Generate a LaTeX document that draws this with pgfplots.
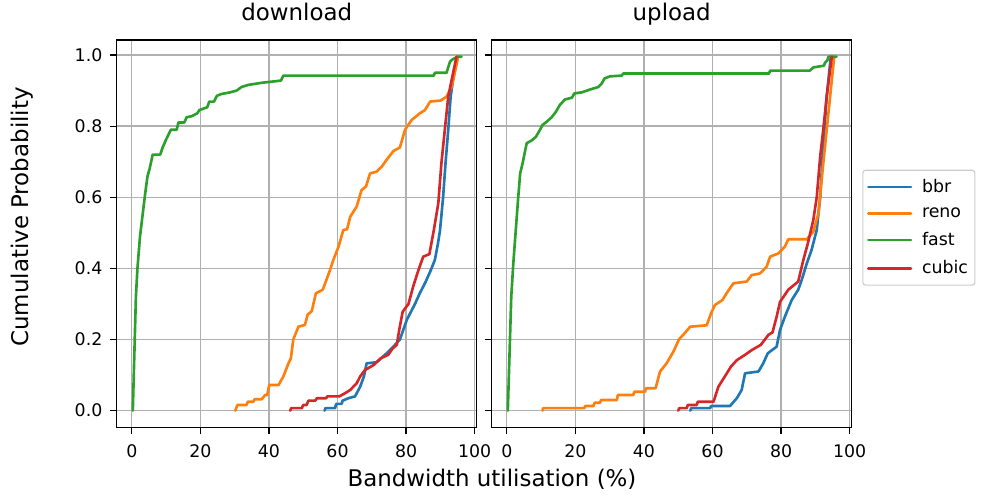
\documentclass[border=0pt]{standalone}
\usepackage{pgfplots}
\pgfplotsset{compat=1.18}
\usepackage{fontspec}
\setmainfont{DejaVu Sans}

\definecolor{cbbr}{HTML}{1F77B4}
\definecolor{creno}{HTML}{FF7F0E}
\definecolor{cfast}{HTML}{2CA02C}
\definecolor{ccubic}{HTML}{D62728}
\definecolor{gridgray}{HTML}{B0B0B0}

\newcommand{\px}{0.72pt}

\pgfplotsset{
  cdf/.style={line width=1.9pt, line join=round, line cap=round},
  cdfaxis/.style={
    scale only axis,
    width=259.2pt, height=279.1pt,
    xmin=-4.4, xmax=100.6,
    ymin=-0.048, ymax=1.042,
    xtick={0,20,40,60,80,100},
    ytick={0,0.2,0.4,0.6,0.8,1.0},
    grid=major,
    major grid style={color=gridgray, line width=0.9pt},
    axis line style={line width=0.9pt},
    tick align=outside,
    major tick length=4.8pt,
    tick style={line width=0.85pt, black},
    xtick pos=bottom, ytick pos=left,
    ticklabel style={font=\fontsize{12.5}{14}\selectfont},
    xticklabel style={yshift=-3.6pt},
    yticklabel style={xshift=-2pt},
    /pgf/number format/assume math mode=true,
    yticklabel style={/pgf/number format/.cd, fixed, fixed zerofill, precision=1},
    title style={font=\fontsize{16.5}{18}\selectfont, at={(0.5,1)}, anchor=base, yshift=8.4pt},
  }
}

\begin{document}
\begin{tikzpicture}
\path[use as bounding box] (0,0) rectangle (984*\px,-494*\px);

% download panel
\begin{axis}[cdfaxis, at={(116.7*\px,-427.7*\px)}, anchor=south west, title={download}]
\addplot[cdf, cbbr] coordinates {(56.2,0)(56.5,0.007)(59.3,0.007)(59.6,0.019)(61.2,0.019)(61.5,0.028)(63.2,0.035)(65.1,0.04)(66.6,0.067)(67.7,0.096)(68.5,0.133)(71.4,0.136)(74.3,0.161)(76.3,0.18)(78.2,0.2)(80.2,0.255)(82.6,0.30)(84,0.33)(85.5,0.358)(87,0.39)(88.4,0.424)(89.3,0.47)(89.9,0.507)(90.8,0.6)(91.5,0.695)(92.3,0.79)(93.0,0.883)(93.7,0.93)(95,0.995)};
\addplot[cdf, creno] coordinates {(30.2,0)(30.8,0.016)(33.5,0.016)(33.8,0.025)(35.5,0.025)(35.8,0.032)(37.9,0.032)(38.9,0.044)(39.5,0.044)(40.1,0.072)(42.8,0.072)(44.2,0.096)(45.7,0.133)(46.4,0.147)(47.1,0.2)(48.6,0.236)(50.5,0.241)(51.3,0.27)(52.5,0.28)(53.7,0.33)(55.7,0.34)(56.4,0.358)(57.8,0.395)(58.8,0.424)(60.3,0.461)(61.7,0.508)(62.8,0.51)(63.7,0.545)(65.6,0.574)(67,0.62)(68.3,0.63)(69.5,0.667)(71.4,0.672)(72.9,0.686)(74.3,0.705)(76.3,0.73)(78.2,0.74)(79.7,0.79)(81.6,0.817)(84,0.836)(85.5,0.845)(87,0.869)(90.1,0.872)(91.8,0.883)(93.3,0.911)(94.8,0.977)(95.2,0.995)};
\addplot[cdf, cfast] coordinates {(0.3,0)(1.2,0.32)(1.65,0.40)(2.4,0.49)(3.9,0.61)(4.6,0.66)(5.2,0.68)(6.1,0.72)(8.3,0.72)(9.0,0.74)(9.9,0.76)(11.4,0.79)(13.1,0.79)(13.6,0.81)(15.3,0.81)(16,0.825)(17.5,0.828)(19.1,0.836)(19.7,0.845)(22,0.853)(22.6,0.869)(24,0.869)(24.8,0.885)(26,0.89)(28.7,0.895)(30.6,0.9)(32,0.91)(34,0.916)(38,0.922)(43.5,0.928)(44.2,0.942)(88.1,0.942)(88.4,0.95)(91.8,0.95)(92.8,0.981)(93.3,0.986)(94,0.99)(95,0.995)(96.2,0.995)};
\addplot[cdf, ccubic] coordinates {(46.2,0)(46.5,0.007)(49.6,0.007)(50,0.016)(51,0.016)(51.5,0.028)(53.5,0.028)(54,0.035)(56.7,0.035)(57,0.04)(60.5,0.04)(62.2,0.049)(63.7,0.058)(65.6,0.077)(66.6,0.096)(68,0.114)(70.5,0.128)(72.6,0.147)(74.8,0.157)(76.1,0.175)(77.3,0.185)(78,0.227)(79,0.278)(80.7,0.30)(82.1,0.35)(83.6,0.395)(85,0.433)(86.8,0.44)(88.1,0.508)(89.4,0.583)(90.3,0.695)(91.3,0.79)(92.3,0.883)(93.3,0.93)(94.7,0.995)};
\end{axis}

% upload panel
\begin{axis}[cdfaxis, at={(491.7*\px,-427.7*\px)}, anchor=south west, title={upload},
  yticklabels={},
  legend style={at={(1.0294,0.516)}, anchor=west, draw=black!20, rounded corners=2pt,
    line width=0.8pt, font=\fontsize{12.5}{14}\selectfont, inner xsep=3pt, inner ysep=4.5pt,
    row sep=5.4pt, /tikz/every odd column/.append style={column sep=5pt}},
  legend cell align=left,
  legend image code/.code={\draw[#1, line width=1.9pt] (0pt,0pt) -- (30.7pt,0pt);},
]
\addplot[cdf, cbbr] coordinates {(53.5,0)(53.8,0.007)(59.3,0.007)(59.6,0.013)(65.1,0.013)(67.1,0.035)(68.5,0.058)(69.5,0.105)(73.4,0.11)(74.8,0.133)(76.1,0.161)(78.7,0.18)(79.7,0.227)(81.1,0.264)(83.1,0.311)(85,0.34)(86,0.367)(87.5,0.414)(88.9,0.452)(90.4,0.508)(91.4,0.6)(92.1,0.714)(93.3,0.883)(94.5,0.995)};
\addlegendentry{bbr}
\addplot[cdf, creno] coordinates {(10.4,0)(10.6,0.007)(22.6,0.007)(22.9,0.013)(25.3,0.013)(25.6,0.022)(27.2,0.022)(27.5,0.03)(32.1,0.03)(32.4,0.044)(36.9,0.044)(37.2,0.053)(40.3,0.053)(40.6,0.063)(43.4,0.063)(44.7,0.11)(46.6,0.133)(48.6,0.166)(50.2,0.2)(51.8,0.217)(53.5,0.236)(58.3,0.24)(59.6,0.274)(60.7,0.297)(62.9,0.311)(64.1,0.33)(66.1,0.358)(70,0.363)(71.4,0.381)(73.9,0.386)(75.8,0.405)(76.8,0.433)(79.2,0.442)(81.1,0.461)(82.1,0.482)(87.5,0.482)(89.4,0.503)(90.9,0.555)(92.3,0.695)(93.8,0.836)(94.8,0.93)(95.5,0.995)};
\addlegendentry{reno}
\addplot[cdf, cfast] coordinates {(0.3,0)(1.3,0.32)(1.9,0.414)(3.2,0.583)(3.9,0.667)(4.6,0.695)(5.8,0.752)(7.3,0.76)(8.5,0.77)(9.7,0.79)(10.4,0.803)(11.7,0.813)(13.1,0.825)(14.3,0.84)(15.5,0.86)(17,0.875)(19,0.88)(19.7,0.892)(21.9,0.895)(24.3,0.903)(26.7,0.91)(27.7,0.92)(28.5,0.934)(30.1,0.94)(33.5,0.942)(34,0.948)(76.5,0.948)(76.8,0.956)(88.4,0.956)(89.4,0.965)(92.5,0.97)(92.8,0.978)(93.5,0.985)(93.8,0.995)(96.2,0.995)};
\addlegendentry{fast}
\addplot[cdf, ccubic] coordinates {(50,0)(50.3,0.007)(52.5,0.007)(52.8,0.016)(55.4,0.016)(55.7,0.025)(60.3,0.025)(61.7,0.067)(63.2,0.09)(65.4,0.124)(67.1,0.142)(69.5,0.157)(71.4,0.17)(74.1,0.185)(76.3,0.213)(77.5,0.22)(78.7,0.264)(79.7,0.306)(82.1,0.34)(85,0.363)(86.5,0.424)(87.8,0.47)(89.4,0.536)(90.4,0.6)(91.4,0.714)(92.3,0.79)(93.3,0.883)(94.8,0.995)};
\addlegendentry{cubic}
\end{axis}

% shared axis labels
\node[anchor=base, font=\fontsize{16.5}{18}\selectfont] at (492*\px,-486*\px) {Bandwidth utilisation (\%)};
\node[rotate=90, font=\fontsize{16.5}{18}\selectfont] at (22*\px,-217*\px) {Cumulative Probability};
\end{tikzpicture}
\end{document}
